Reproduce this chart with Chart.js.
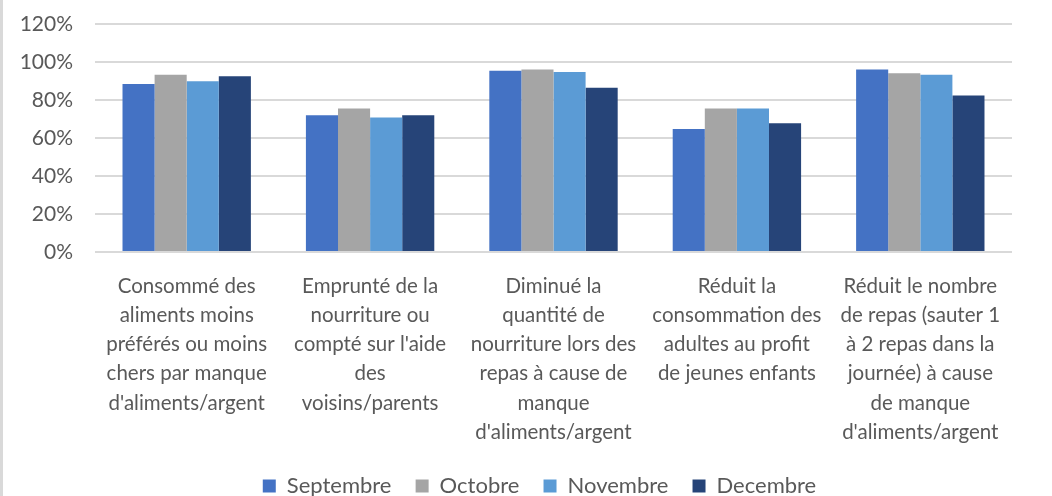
<!DOCTYPE html>
<html>
<head>
<meta charset="utf-8">
<script src="https://cdn.jsdelivr.net/npm/chart.js@4"></script>
<style>
  html, body { margin: 0; padding: 0; background: #fff; }
  #wrap { position: relative; width: 1052px; height: 496px; box-sizing: border-box; border-left: 3px solid #d9d9d9; }
</style>
</head>
<body>
<div id="wrap"><canvas id="myChart"></canvas></div>
<script>
var categories = [
    ["Consommé des", "aliments moins", "préférés ou moins", "chers par manque", "d'aliments/argent"],
    ["Emprunté de la", "nourriture ou", "compté sur l'aide", "des", "voisins/parents"],
    ["Diminué la", "quantité de", "nourriture lors des", "repas à cause de", "manque", "d'aliments/argent"],
    ["Réduit la", "consommation des", "adultes au profit", "de jeunes enfants"],
    ["Réduit le nombre", "de repas (sauter 1", "à 2 repas dans la", "journée) à cause", "de manque", "d'aliments/argent"]
];
var septembre = [88.4, 72.0, 95.4, 64.8, 96.0];
var octobre   = [93.3, 75.5, 96.0, 75.5, 94.1];
var novembre  = [89.9, 70.8, 94.8, 75.5, 93.3];
var decembre  = [92.5, 72.0, 86.4, 67.8, 82.4];
var seriesNames = ["Septembre", "Octobre", "Novembre", "Decembre"];
var colors = ["#4472C4", "#A5A5A5", "#5B9BD5", "#264478"];

var fontFamily = "Lato, 'Open Sans', sans-serif";
var textColor = "#595959";

var ctx = document.getElementById('myChart').getContext('2d');
var values = [septembre, octobre, novembre, decembre];
var datasets = values.map(function (v, i) {
    return {
        label: seriesNames[i],
        data: v,
        backgroundColor: colors[i],
        borderWidth: 0,
        categoryPercentage: 0.7,
        barPercentage: 1.0
    };
});

// the legend in the original sits a bit right of the canvas centre
var legendShift = {
    id: 'legendShift',
    afterLayout: function (chart) {
        chart.legend.left += 32;
        chart.legend.right += 32;
    }
};

new Chart(ctx, {
    type: 'bar',
    data: { labels: categories, datasets: datasets },
    plugins: [legendShift],
    options: {
        responsive: true,
        maintainAspectRatio: false,
        animation: false,
        layout: { padding: { top: 24, right: 40, left: 0, bottom: -11 } },
        plugins: {
            tooltip: { enabled: false },
            legend: {
                position: 'bottom',
                labels: {
                    color: textColor,
                    font: { family: fontFamily, size: 22 },
                    boxWidth: 13,
                    boxHeight: 13,
                    padding: 2,
                    generateLabels: function (chart) {
                        var items = Chart.defaults.plugins.legend.labels.generateLabels(chart);
                        items.forEach(function (it, i) {
                            if (i < items.length - 1) it.text = it.text + '\u2003 ';
                        });
                        return items;
                    }
                }
            }
        },
        scales: {
            x: {
                grid: { display: false },
                border: { display: false },
                ticks: {
                    color: textColor,
                    font: { family: fontFamily, size: 20.5, lineHeight: 1.42 },
                    maxRotation: 0,
                    autoSkip: false,
                    padding: 12
                },
                afterFit: function (scale) { scale.height = 221; }
            },
            y: {
                min: 0,
                max: 120,
                ticks: {
                    stepSize: 20,
                    color: textColor,
                    font: { family: fontFamily, size: 21 },
                    padding: 22,
                    callback: function (v) { return v + '%'; }
                },
                grid: { color: '#d9d9d9', lineWidth: 2, drawTicks: false },
                border: { display: false },
                afterFit: function (scale) {
                    scale.width = 92;
                    scale.paddingTop = 0;
                    scale.paddingBottom = 0;
                }
            }
        }
    }
});
</script>
</body>
</html>
